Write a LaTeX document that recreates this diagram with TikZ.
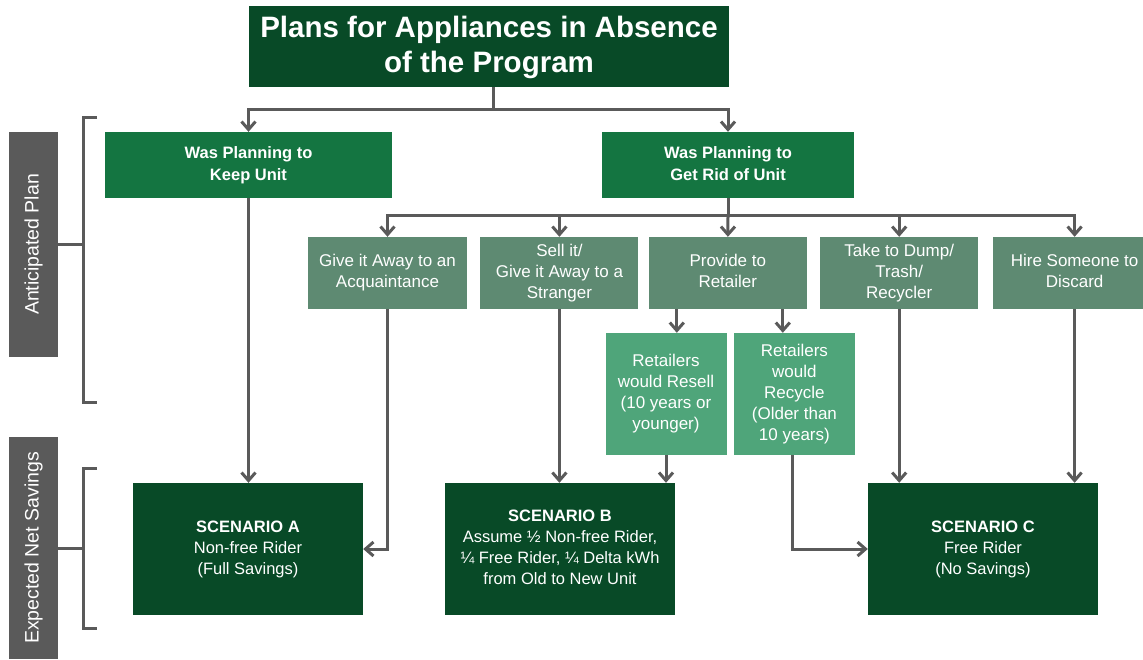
\documentclass[tikz,border=0pt]{standalone}
\usepackage{fontspec}
\setmainfont{Liberation Sans}
\usetikzlibrary{arrows.meta, positioning}

\definecolor{titlegreen}{HTML}{084A27}
\definecolor{plangreen}{HTML}{147541}
\definecolor{choicegreen}{HTML}{5E8A72}
\definecolor{retailgreen}{HTML}{4FA57A}
\definecolor{sidegray}{HTML}{5A5A5A}
\definecolor{linegray}{HTML}{5A5A5A}

\tikzset{
  box/.style={rectangle, inner sep=0pt, text=white, align=center},
  titlebox/.style={box, fill=titlegreen, minimum width=480pt, minimum height=81pt, font=\bfseries\fontsize{29.5}{35}\selectfont},
  planbox/.style={box, fill=plangreen, minimum height=66pt, font=\bfseries\fontsize{16.5}{22}\selectfont},
  choicebox/.style={box, fill=choicegreen, minimum height=72pt, font=\fontsize{17}{21}\selectfont},
  retailbox/.style={box, fill=retailgreen, minimum width=121pt, minimum height=122pt, font=\fontsize{17}{21}\selectfont},
  scenbox/.style={box, fill=titlegreen, minimum width=230pt, minimum height=132pt, font=\fontsize{16.5}{21}\selectfont},
  sidebox/.style={box, fill=sidegray, rotate=90, minimum height=49pt, font=\fontsize{19.5}{23}\selectfont},
  ln/.style={draw=linegray, line width=3pt},
}

\begin{document}
\begin{tikzpicture}[x=1pt, y=-1pt, >={Straight Barb[length=8pt, width=14pt]}]
	\useasboundingbox (0,0) rectangle (1143,659);
	%
	\node[titlebox] (title) at (489,46.5) {\begin{tabular}{c}\rule{0pt}{27pt}Plans for Appliances in Absence\\ of the Program\end{tabular}};
	\node[planbox, minimum width=287pt] (keep) at (248.5,165) {\begin{tabular}{c}Was Planning to\\ Keep Unit\end{tabular}};
	\node[planbox, minimum width=252pt] (rid) at (728,165) {\begin{tabular}{c}Was Planning to\\ Get Rid of Unit\end{tabular}};
	%
	\node[choicebox, minimum width=159pt] (give) at (387.5,273) {\begin{tabular}{c}Give it Away to an\\ Acquaintance\end{tabular}};
	\node[choicebox, minimum width=158pt, right=13pt of give] (sell) {\begin{tabular}{c}Sell it/\\ Give it Away to a\\ Stranger\end{tabular}};
	\node[choicebox, minimum width=158pt, right=10pt of sell] (retail) {\begin{tabular}{c}Provide to\\ Retailer\end{tabular}};
	\node[choicebox, minimum width=158pt, right=13pt of retail] (dump) {\begin{tabular}{c}Take to Dump/\\ Trash/\\ Recycler\end{tabular}};
	\node[choicebox, minimum width=164pt, right=14pt of dump] (hire) {\begin{tabular}{c}Hire Someone to\\ Discard\end{tabular}};
	%
	\node[retailbox] (resell) at (666,394) {\begin{tabular}{c}Retailers\\ would Resell\\ (10 years or\\ younger)\end{tabular}};
	\node[retailbox, right=7pt of resell] (recycle) {\begin{tabular}{c}Retailers\\ would\\ Recycle\\ (Older than\\ 10 years)\end{tabular}};
	%
	\node[scenbox] (scena) at (248,549) {\begin{tabular}{c}\textbf{SCENARIO A}\\ Non-free Rider\\ (Full Savings)\end{tabular}};
	\node[scenbox] (scenb) at (560,549) {\begin{tabular}{c}\textbf{SCENARIO B}\\ Assume ½ Non-free Rider,\\ ¼ Free Rider, ¼ Delta kWh\\ from Old to New Unit\end{tabular}};
	\node[scenbox] (scenc) at (983,549) {\begin{tabular}{c}\textbf{SCENARIO C}\\ Free Rider\\ (No Savings)\end{tabular}};
	%
	\node[sidebox, minimum width=225pt] (antic) at (33.5,244.5) {Anticipated Plan};
	\node[sidebox, minimum width=222pt] (expect) at (33.5,548) {Expected Net Savings};
	%
	\coordinate (tsplit) at (493,109);
	\coordinate (rsplit) at (728,215);
	\coordinate (bracka) at (97,117);
	\coordinate (brackb) at (97,468);
	%
	\draw[ln] (title.south -| tsplit) -- (tsplit);
	\draw[ln, ->] (tsplit) -| (keep);
	\draw[ln, ->] (tsplit) -| (rid);
	\draw[ln] (rid) -- (rsplit);
	\draw[ln, ->] (rsplit) -| (give);
	\draw[ln, ->] (rsplit) -| (sell);
	\draw[ln, ->] (rsplit) -- (retail);
	\draw[ln, ->] (rsplit) -| (dump);
	\draw[ln, ->] (rsplit) -| (hire);
	%
	\draw[ln, ->] ([xshift=-51pt]retail.south) -- ([xshift=-51pt]retail.south |- resell.north);
	\draw[ln, ->] ([xshift=55pt]retail.south) -- ([xshift=55pt]retail.south |- recycle.north);
	%
	\draw[ln, ->] (keep) -- (keep |- scena.north);
	\draw[ln, ->] (give) |- (scena.east);
	\draw[ln, ->] (sell) -- (sell |- scenb.north);
	\draw[ln, ->] (resell) -- (resell |- scenb.north);
	\draw[ln, ->] ([xshift=-2pt]recycle.south) |- (scenc.west);
	\draw[ln, ->] (dump) -- (dump |- scenc.north);
	\draw[ln, ->] (hire) -- (hire |- scenc.north);
	%
	\draw[ln] (bracka) -- ++(-14,0) |- ++(14,285);
	\draw[ln] (antic.south) -- ++(25,0);
	\draw[ln] (brackb) -- ++(-14,0) |- ++(14,160);
	\draw[ln] (expect.south) -- ++(25,0);
\end{tikzpicture}
\end{document}
